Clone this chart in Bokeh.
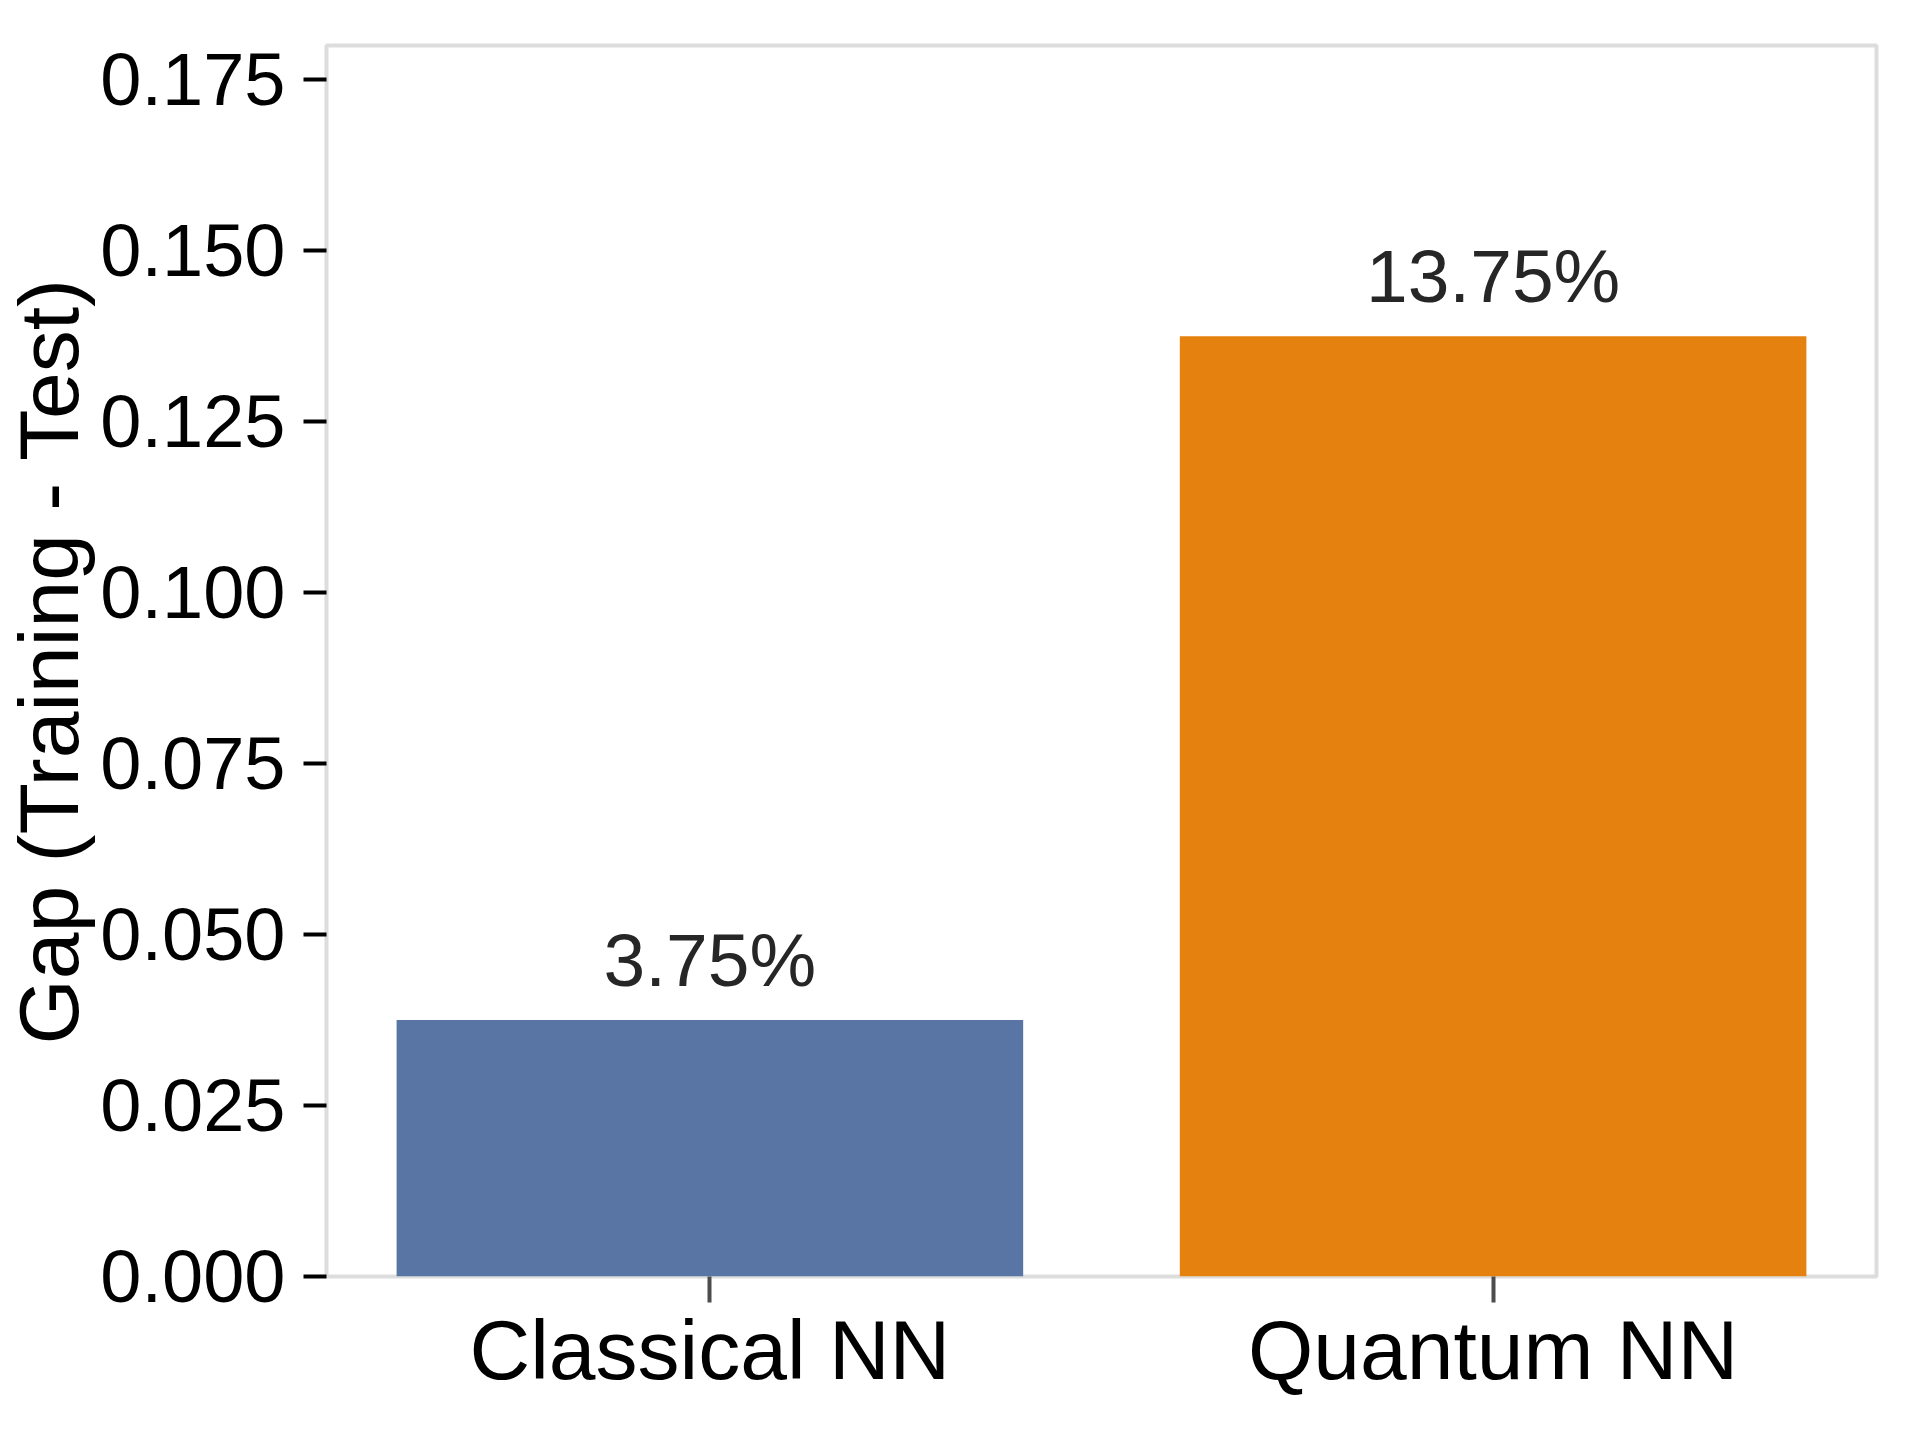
import math
from bokeh.plotting import figure
from bokeh.models import ColumnDataSource, FixedTicker, NumeralTickFormatter, Range1d, FactorRange, Label
from bokeh.core.properties import value
from bokeh.embed import file_html
from bokeh.resources import INLINE

# ---- data ----
models = ["Classical NN", "Quantum NN"]
gaps = [0.0375, 0.1375]
bar_colors = ["#5975a4", "#e5820f"]
gap_labels = [f"{g * 100:.2f}%" for g in gaps]
y_ticks = [0.0, 0.025, 0.05, 0.075, 0.1, 0.125, 0.15, 0.175]
y_label = "Gap (Training - Test)"

FONT = "Liberation Sans"
FRAME_W, FRAME_H = 1550, 1231

src = ColumnDataSource(dict(model=models, gap=gaps, color=bar_colors, label=gap_labels))

yr = Range1d(0, 0.18)
p = figure(
    x_range=FactorRange(factors=models, range_padding=-0.0105),
    y_range=yr,
    frame_width=FRAME_W, frame_height=FRAME_H,
    min_border_left=326, min_border_top=45, min_border_right=32, min_border_bottom=150,
    output_backend="svg", toolbar_location=None,
    background_fill_color="white", border_fill_color="white",
)

p.vbar(x="model", top="gap", width=0.8, color="color", line_color=None, source=src)
p.text(x="model", y="gap", text="label", source=src,
       text_font=value(FONT), text_font_size="75px", text_color="#262626",
       text_align="center", text_baseline="alphabetic", y_offset=-60)

p.grid.visible = False
p.outline_line_color = "#dddddd"
p.outline_line_width = 4

# y axis
ya = p.yaxis[0]
ya.ticker = FixedTicker(ticks=y_ticks)
ya.formatter = NumeralTickFormatter(format="0.000")
ya.axis_line_color = None
ya.major_tick_in = 0
ya.major_tick_out = 23
ya.major_tick_line_width = 4
ya.major_tick_line_color = "black"
ya.minor_tick_line_color = None
ya.major_label_text_font = FONT
ya.major_label_text_font_size = "74px"
ya.major_label_text_color = "black"
ya.major_label_standoff = 18

# y-axis title: rotated label placed in the left border panel
p.add_layout(Label(
    x=48, y=(yr.start + yr.end) / 2, x_units="canvas", y_units="data",
    text=y_label, angle=math.pi / 2,
    text_font=FONT, text_font_size="84px", text_color="black",
    text_align="center", text_baseline="middle",
), "left")

# x axis
xa = p.xaxis[0]
xa.axis_line_color = None
xa.major_tick_in = 0
xa.major_tick_out = 26
xa.major_tick_line_width = 4
xa.major_tick_line_color = "#4d4d4d"
xa.minor_tick_line_color = None
xa.major_label_text_font = FONT
xa.major_label_text_font_size = "84px"
xa.major_label_text_color = "black"
xa.major_label_standoff = 0

open("out.html", "w").write(file_html(p, INLINE))
